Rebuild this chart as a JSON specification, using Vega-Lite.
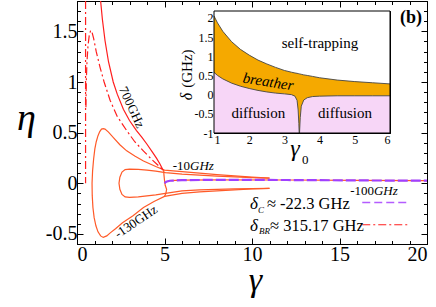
{
  "$schema": "https://vega.github.io/schema/vega-lite/v6.json",
  "width": 350,
  "height": 243,
  "autosize": "none",
  "padding": {"left": 77, "top": 1, "right": 9, "bottom": 63},
  "config": {
    "view": {"stroke": "black", "strokeWidth": 1},
    "font": "Liberation Serif",
    "axis": {"grid": false, "domainColor": "black", "tickColor": "black", "labelColor": "black", "titleColor": "black", "labelFont": "Liberation Serif", "titleFont": "Liberation Serif", "titleFontWeight": "normal"},
    "text": {"font": "Liberation Serif", "color": "black"}
  },
  "resolve": {"scale": {"x": "independent", "y": "independent"}},
  "layer": [
    {
      "resolve": {"axis": {"x": "independent", "y": "independent"}},
      "layer": [
        {
          "data": {"values": [
            {"c": "o1", "i": 1, "x": 11, "y": 0.05}, {"c": "o1", "i": 2, "x": 10, "y": 0.06}, {"c": "o1", "i": 3, "x": 9, "y": 0.072}, {"c": "o1", "i": 4, "x": 8, "y": 0.085}, {"c": "o1", "i": 5, "x": 7, "y": 0.1}, {"c": "o1", "i": 6, "x": 6, "y": 0.115}, {"c": "o1", "i": 7, "x": 5.0, "y": 0.13}, {"c": "o1", "i": 8, "x": 4.5, "y": 0.165}, {"c": "o1", "i": 9, "x": 3.8, "y": 0.22}, {"c": "o1", "i": 10, "x": 3.3, "y": 0.27}, {"c": "o1", "i": 11, "x": 2.84, "y": 0.32}, {"c": "o1", "i": 12, "x": 2.45, "y": 0.38}, {"c": "o1", "i": 13, "x": 2.08, "y": 0.45}, {"c": "o1", "i": 14, "x": 1.8, "y": 0.505}, {"c": "o1", "i": 15, "x": 1.6, "y": 0.535}, {"c": "o1", "i": 16, "x": 1.5, "y": 0.54}, {"c": "o1", "i": 17, "x": 1.4, "y": 0.535}, {"c": "o1", "i": 18, "x": 1.3, "y": 0.51}, {"c": "o1", "i": 19, "x": 1.2, "y": 0.47}, {"c": "o1", "i": 20, "x": 1.1, "y": 0.41}, {"c": "o1", "i": 21, "x": 1.02, "y": 0.34}, {"c": "o1", "i": 22, "x": 0.95, "y": 0.24}, {"c": "o1", "i": 23, "x": 0.89, "y": 0.12}, {"c": "o1", "i": 24, "x": 0.86, "y": 0.0}, {"c": "o1", "i": 25, "x": 0.87, "y": -0.12}, {"c": "o1", "i": 26, "x": 0.91, "y": -0.24}, {"c": "o1", "i": 27, "x": 0.98, "y": -0.34}, {"c": "o1", "i": 28, "x": 1.08, "y": -0.42}, {"c": "o1", "i": 29, "x": 1.2, "y": -0.48}, {"c": "o1", "i": 30, "x": 1.35, "y": -0.52}, {"c": "o1", "i": 31, "x": 1.5, "y": -0.535}, {"c": "o1", "i": 32, "x": 1.7, "y": -0.52}, {"c": "o1", "i": 33, "x": 1.9, "y": -0.49}, {"c": "o1", "i": 34, "x": 2.2, "y": -0.45}, {"c": "o1", "i": 35, "x": 2.6, "y": -0.39}, {"c": "o1", "i": 36, "x": 3.2, "y": -0.32}, {"c": "o1", "i": 37, "x": 3.8, "y": -0.24}, {"c": "o1", "i": 38, "x": 4.4, "y": -0.18}, {"c": "o1", "i": 39, "x": 5.0, "y": -0.13}, {"c": "o1", "i": 40, "x": 6, "y": -0.1}, {"c": "o1", "i": 41, "x": 7, "y": -0.085}, {"c": "o1", "i": 42, "x": 8, "y": -0.075}, {"c": "o1", "i": 43, "x": 9, "y": -0.065}, {"c": "o1", "i": 44, "x": 10, "y": -0.057}, {"c": "o1", "i": 45, "x": 11, "y": -0.05},
            {"c": "o2", "i": 1, "x": 11, "y": 0.05}, {"c": "o2", "i": 2, "x": 10, "y": 0.055}, {"c": "o2", "i": 3, "x": 9, "y": 0.062}, {"c": "o2", "i": 4, "x": 8, "y": 0.07}, {"c": "o2", "i": 5, "x": 7, "y": 0.08}, {"c": "o2", "i": 6, "x": 6, "y": 0.09}, {"c": "o2", "i": 7, "x": 5.05, "y": 0.105}, {"c": "o2", "i": 8, "x": 4.5, "y": 0.12}, {"c": "o2", "i": 9, "x": 4.0, "y": 0.13}, {"c": "o2", "i": 10, "x": 3.5, "y": 0.137}, {"c": "o2", "i": 11, "x": 3.0, "y": 0.14}, {"c": "o2", "i": 12, "x": 2.75, "y": 0.135}, {"c": "o2", "i": 13, "x": 2.57, "y": 0.11}, {"c": "o2", "i": 14, "x": 2.45, "y": 0.06}, {"c": "o2", "i": 15, "x": 2.4, "y": 0.0}, {"c": "o2", "i": 16, "x": 2.45, "y": -0.06}, {"c": "o2", "i": 17, "x": 2.57, "y": -0.11}, {"c": "o2", "i": 18, "x": 2.75, "y": -0.135}, {"c": "o2", "i": 19, "x": 3.0, "y": -0.14}, {"c": "o2", "i": 20, "x": 3.5, "y": -0.135}, {"c": "o2", "i": 21, "x": 4.0, "y": -0.125}, {"c": "o2", "i": 22, "x": 4.5, "y": -0.115}, {"c": "o2", "i": 23, "x": 5.05, "y": -0.1}, {"c": "o2", "i": 24, "x": 6, "y": -0.075}, {"c": "o2", "i": 25, "x": 7, "y": -0.065}, {"c": "o2", "i": 26, "x": 8, "y": -0.06}, {"c": "o2", "i": 27, "x": 9, "y": -0.056}, {"c": "o2", "i": 28, "x": 10, "y": -0.053}, {"c": "o2", "i": 29, "x": 11, "y": -0.05},
            {"c": "o3", "i": 1, "x": 4.95, "y": 0.13}, {"c": "o3", "i": 2, "x": 4.97, "y": 0.08}, {"c": "o3", "i": 3, "x": 5.0, "y": 0.03}, {"c": "o3", "i": 4, "x": 5.04, "y": -0.02}, {"c": "o3", "i": 5, "x": 5.12, "y": -0.06}, {"c": "o3", "i": 6, "x": 5.08, "y": -0.1}, {"c": "o3", "i": 7, "x": 5.0, "y": -0.13},
            {"c": "o4", "i": 1, "x": 5.0, "y": 0.0}, {"c": "o4", "i": 2, "x": 5.1, "y": 0.015}, {"c": "o4", "i": 3, "x": 5.3, "y": 0.025}, {"c": "o4", "i": 4, "x": 6, "y": 0.03}, {"c": "o4", "i": 5, "x": 8, "y": 0.034}, {"c": "o4", "i": 6, "x": 12, "y": 0.032}, {"c": "o4", "i": 7, "x": 16, "y": 0.028}, {"c": "o4", "i": 8, "x": 20, "y": 0.025}
          ]},
          "mark": {"type": "line", "color": "#ff5a28", "strokeWidth": 1.2},
          "encoding": {
            "x": {"field": "x", "type": "quantitative", "scale": {"domain": [0, 20], "zero": false, "nice": false},
              "axis": {"orient": "bottom", "values": [0, 5, 10, 15, 20], "tickSize": -6, "labelPadding": 6, "labelFont": "Liberation Serif", "labelFontSize": 20, "format": "~g", "title": "γ", "titleFont": "Liberation Serif", "titleFontSize": 34, "titleFontStyle": "italic", "titleX": 178, "titleY": 46, "titleBaseline": "alphabetic", "titleAlign": "center"}},
            "y": {"field": "y", "type": "quantitative", "scale": {"domain": [-0.6, 1.8], "zero": false, "nice": false},
              "axis": {"orient": "left", "values": [-0.5, 0, 0.5, 1, 1.5], "tickSize": -6, "labelPadding": 6, "labelFont": "Liberation Serif", "labelFontSize": 20, "format": "~g", "labelExpr": "replace(datum.label, '−', '-')", "title": "η", "titleFont": "Liberation Serif", "titleAngle": 0, "titleFontSize": 38, "titleFontStyle": "italic", "titleX": -51, "titleY": 128, "titleBaseline": "alphabetic", "titleAlign": "center"}},
            "detail": {"field": "c"},
            "order": {"field": "i", "type": "quantitative"}
          }
        },
        {
          "data": {"values": [
            {"c": "r1", "i": 1, "x": 1.35, "y": 1.8}, {"c": "r1", "i": 2, "x": 1.45, "y": 1.62}, {"c": "r1", "i": 3, "x": 1.6, "y": 1.41}, {"c": "r1", "i": 4, "x": 1.8, "y": 1.2}, {"c": "r1", "i": 5, "x": 2.07, "y": 1.0}, {"c": "r1", "i": 6, "x": 2.3, "y": 0.88}, {"c": "r1", "i": 7, "x": 2.65, "y": 0.73}, {"c": "r1", "i": 8, "x": 3.0, "y": 0.62}, {"c": "r1", "i": 9, "x": 3.4, "y": 0.52}, {"c": "r1", "i": 10, "x": 3.7, "y": 0.455}, {"c": "r1", "i": 11, "x": 3.98, "y": 0.39}, {"c": "r1", "i": 12, "x": 4.3, "y": 0.31}, {"c": "r1", "i": 13, "x": 4.55, "y": 0.245}, {"c": "r1", "i": 14, "x": 4.74, "y": 0.19}, {"c": "r1", "i": 15, "x": 4.93, "y": 0.125}
          ]},
          "mark": {"type": "line", "color": "#ff1e1e", "strokeWidth": 1.2},
          "encoding": {
            "x": {"field": "x", "type": "quantitative", "scale": {"domain": [0, 20], "zero": false, "nice": false},
              "axis": {"orient": "top", "values": [0, 5, 10, 15, 20], "tickSize": -6, "labels": false, "title": null}},
            "y": {"field": "y", "type": "quantitative", "scale": {"domain": [-0.6, 1.8], "zero": false, "nice": false},
              "axis": {"orient": "right", "values": [-0.5, 0, 0.5, 1, 1.5], "tickSize": -6, "labels": false, "title": null}},
            "detail": {"field": "c"},
            "order": {"field": "i", "type": "quantitative"}
          }
        },
        {
          "data": {"values": [
            {"c": "r2", "i": 1, "x": 0.51, "y": 0.75}, {"c": "r2", "i": 2, "x": 0.53, "y": 1.0}, {"c": "r2", "i": 3, "x": 0.57, "y": 1.2}, {"c": "r2", "i": 4, "x": 0.63, "y": 1.36}, {"c": "r2", "i": 5, "x": 0.7, "y": 1.46}, {"c": "r2", "i": 6, "x": 0.78, "y": 1.51}, {"c": "r2", "i": 7, "x": 0.86, "y": 1.49}, {"c": "r2", "i": 8, "x": 0.95, "y": 1.43}, {"c": "r2", "i": 9, "x": 1.1, "y": 1.3}, {"c": "r2", "i": 10, "x": 1.31, "y": 1.15}, {"c": "r2", "i": 11, "x": 1.55, "y": 1.0}, {"c": "r2", "i": 12, "x": 1.89, "y": 0.82}, {"c": "r2", "i": 13, "x": 2.3, "y": 0.66}, {"c": "r2", "i": 14, "x": 2.84, "y": 0.52}, {"c": "r2", "i": 15, "x": 3.3, "y": 0.41}, {"c": "r2", "i": 16, "x": 3.79, "y": 0.32}, {"c": "r2", "i": 17, "x": 4.3, "y": 0.23}, {"c": "r2", "i": 18, "x": 4.74, "y": 0.16}, {"c": "r2", "i": 19, "x": 4.93, "y": 0.125},
            {"c": "r3", "i": 1, "x": 0.49, "y": 1.8}, {"c": "r3", "i": 2, "x": 0.49, "y": 0.0}
          ]},
          "mark": {"type": "line", "color": "#ff1e1e", "strokeWidth": 1.2, "strokeDash": [8, 3, 2, 3]},
          "encoding": {
            "x": {"field": "x", "type": "quantitative", "scale": {"domain": [0, 20], "zero": false, "nice": false},
              "axis": {"orient": "bottom", "values": [1, 2, 3, 4, 6, 7, 8, 9, 11, 12, 13, 14, 16, 17, 18, 19], "tickSize": -3.5, "labels": false, "domain": false, "title": null}},
            "y": {"field": "y", "type": "quantitative", "scale": {"domain": [-0.6, 1.8], "zero": false, "nice": false},
              "axis": {"orient": "left", "values": [-0.6, -0.4, -0.3, -0.2, -0.1, 0.1, 0.2, 0.3, 0.4, 0.6, 0.7, 0.8, 0.9, 1.1, 1.2, 1.3, 1.4, 1.6, 1.7], "tickSize": -3.5, "labels": false, "domain": false, "title": null}},
            "detail": {"field": "c"},
            "order": {"field": "i", "type": "quantitative"}
          }
        },
        {
          "data": {"values": [
            {"c": "p", "i": 1, "x": 5.0, "y": 0.0}, {"c": "p", "i": 2, "x": 5.1, "y": 0.015}, {"c": "p", "i": 3, "x": 5.3, "y": 0.025}, {"c": "p", "i": 4, "x": 6, "y": 0.03}, {"c": "p", "i": 5, "x": 8, "y": 0.034}, {"c": "p", "i": 6, "x": 12, "y": 0.032}, {"c": "p", "i": 7, "x": 16, "y": 0.028}, {"c": "p", "i": 8, "x": 20, "y": 0.025}
          ]},
          "mark": {"type": "line", "color": "#a040ff", "strokeWidth": 2.2, "strokeDash": [10, 3]},
          "encoding": {
            "x": {"field": "x", "type": "quantitative", "scale": {"domain": [0, 20], "zero": false, "nice": false},
              "axis": {"orient": "top", "values": [1, 2, 3, 4, 6, 7, 8, 9, 11, 12, 13, 14, 16, 17, 18, 19], "tickSize": -3.5, "labels": false, "domain": false, "title": null}},
            "y": {"field": "y", "type": "quantitative", "scale": {"domain": [-0.6, 1.8], "zero": false, "nice": false},
              "axis": {"orient": "right", "values": [-0.6, -0.4, -0.3, -0.2, -0.1, 0.1, 0.2, 0.3, 0.4, 0.6, 0.7, 0.8, 0.9, 1.1, 1.2, 1.3, 1.4, 1.6, 1.7], "tickSize": -3.5, "labels": false, "domain": false, "title": null}},
            "order": {"field": "i", "type": "quantitative"}
          }
        },
        {
          "data": {"values": [{"x1": 16.3, "x2": 18.9, "y": -0.19}]},
          "mark": {"type": "rule", "color": "#b45cff", "strokeWidth": 1.5, "strokeDash": [8, 4]},
          "encoding": {
            "x": {"field": "x1", "type": "quantitative", "scale": {"domain": [0, 20], "zero": false, "nice": false}, "axis": null},
            "x2": {"field": "x2"},
            "y": {"field": "y", "type": "quantitative", "scale": {"domain": [-0.6, 1.8], "zero": false, "nice": false}, "axis": null}
          }
        },
        {
          "data": {"values": [{"x1": 16.3, "x2": 18.9, "y": -0.41}]},
          "mark": {"type": "rule", "color": "#ff1e1e", "strokeWidth": 1.2, "strokeDash": [8, 3, 2, 3]},
          "encoding": {
            "x": {"field": "x1", "type": "quantitative", "scale": {"domain": [0, 20], "zero": false, "nice": false}, "axis": null},
            "x2": {"field": "x2"},
            "y": {"field": "y", "type": "quantitative", "scale": {"domain": [-0.6, 1.8], "zero": false, "nice": false}, "axis": null}
          }
        },
        {
          "data": {"values": [{"x": 3.12, "y": 0.75, "t": "700GHz"}]},
          "mark": {"type": "text", "fontSize": 13, "angle": 65, "align": "center", "baseline": "middle"},
          "encoding": {
            "x": {"field": "x", "type": "quantitative", "scale": {"domain": [0, 20], "zero": false, "nice": false}, "axis": null},
            "y": {"field": "y", "type": "quantitative", "scale": {"domain": [-0.6, 1.8], "zero": false, "nice": false}, "axis": null},
            "text": {"field": "t"}
          }
        },
        {
          "data": {"values": [{"x": 3.37, "y": -0.38, "t": "-130GHz"}]},
          "mark": {"type": "text", "fontSize": 13, "angle": -34, "align": "center", "baseline": "middle"},
          "encoding": {
            "x": {"field": "x", "type": "quantitative", "scale": {"domain": [0, 20], "zero": false, "nice": false}, "axis": null},
            "y": {"field": "y", "type": "quantitative", "scale": {"domain": [-0.6, 1.8], "zero": false, "nice": false}, "axis": null},
            "text": {"field": "t"}
          }
        },
        {
          "data": {"values": [{"x": 6.46, "y": 0.175, "t": "-10"}, {"x": 16.97, "y": -0.077, "t": "-100"}]},
          "mark": {"type": "text", "fontSize": 13, "align": "right", "baseline": "middle"},
          "encoding": {
            "x": {"field": "x", "type": "quantitative", "scale": {"domain": [0, 20], "zero": false, "nice": false}, "axis": null},
            "y": {"field": "y", "type": "quantitative", "scale": {"domain": [-0.6, 1.8], "zero": false, "nice": false}, "axis": null},
            "text": {"field": "t"}
          }
        },
        {
          "data": {"values": [{"x": 6.46, "y": 0.175, "t": "GHz"}, {"x": 16.97, "y": -0.077, "t": "GHz"}]},
          "mark": {"type": "text", "fontSize": 13, "fontStyle": "italic", "align": "left", "baseline": "middle"},
          "encoding": {
            "x": {"field": "x", "type": "quantitative", "scale": {"domain": [0, 20], "zero": false, "nice": false}, "axis": null},
            "y": {"field": "y", "type": "quantitative", "scale": {"domain": [-0.6, 1.8], "zero": false, "nice": false}, "axis": null},
            "text": {"field": "t"}
          }
        },
        {
          "data": {"values": [{"x": 9.89, "y": -0.25, "t": "δ"}, {"x": 9.89, "y": -0.467, "t": "δ"}]},
          "mark": {"type": "text", "fontSize": 17, "fontStyle": "italic", "align": "left", "baseline": "alphabetic"},
          "encoding": {
            "x": {"field": "x", "type": "quantitative", "scale": {"domain": [0, 20], "zero": false, "nice": false}, "axis": null},
            "y": {"field": "y", "type": "quantitative", "scale": {"domain": [-0.6, 1.8], "zero": false, "nice": false}, "axis": null},
            "text": {"field": "t"}
          }
        },
        {
          "data": {"values": [{"x": 10.34, "y": -0.29, "t": "C"}, {"x": 10.4, "y": -0.5, "t": "BR"}]},
          "mark": {"type": "text", "fontSize": 9, "fontStyle": "italic", "align": "left", "baseline": "alphabetic"},
          "encoding": {
            "x": {"field": "x", "type": "quantitative", "scale": {"domain": [0, 20], "zero": false, "nice": false}, "axis": null},
            "y": {"field": "y", "type": "quantitative", "scale": {"domain": [-0.6, 1.8], "zero": false, "nice": false}, "axis": null},
            "text": {"field": "t"}
          }
        },
        {
          "data": {"values": [{"x": 10.85, "y": -0.25, "t": "≈ -22.3 GHz"}, {"x": 11.03, "y": -0.467, "t": "≈ 315.17 GHz"}]},
          "mark": {"type": "text", "fontSize": 16.5, "align": "left", "baseline": "alphabetic"},
          "encoding": {
            "x": {"field": "x", "type": "quantitative", "scale": {"domain": [0, 20], "zero": false, "nice": false}, "axis": null},
            "y": {"field": "y", "type": "quantitative", "scale": {"domain": [-0.6, 1.8], "zero": false, "nice": false}, "axis": null},
            "text": {"field": "t"}
          }
        },
        {
          "data": {"values": [{"x": 19.09, "y": 1.63, "t": "(b)"}]},
          "mark": {"type": "text", "fontSize": 18, "fontWeight": "bold", "align": "center", "baseline": "middle"},
          "encoding": {
            "x": {"field": "x", "type": "quantitative", "scale": {"domain": [0, 20], "zero": false, "nice": false}, "axis": null},
            "y": {"field": "y", "type": "quantitative", "scale": {"domain": [-0.6, 1.8], "zero": false, "nice": false}, "axis": null},
            "text": {"field": "t"}
          }
        }
      ]
    },
    {
      "resolve": {"axis": {"x": "independent", "y": "independent"}},
      "layer": [
        {
          "data": {"values": [{}]},
          "mark": {"type": "rect", "fill": "white"},
          "encoding": {
            "x": {"datum": 1, "type": "quantitative", "scale": {"domain": [1, 6], "range": [137, 313], "zero": false, "nice": false}, "axis": null},
            "x2": {"datum": 6},
            "y": {"datum": -1, "type": "quantitative", "scale": {"domain": [-1, 2.18], "range": [132, 10], "zero": false, "nice": false}, "axis": null},
            "y2": {"datum": 2.18}
          }
        },
        {
          "data": {"name": "bounds", "values": [
            {"g": 1.0, "hi": 2.05, "lo": 0.58}, {"g": 1.1, "hi": 1.87, "lo": 0.5}, {"g": 1.25, "hi": 1.65, "lo": 0.41}, {"g": 1.5, "hi": 1.38, "lo": 0.3}, {"g": 1.75, "hi": 1.18, "lo": 0.22}, {"g": 2.0, "hi": 1.03, "lo": 0.16}, {"g": 2.25, "hi": 0.9, "lo": 0.11}, {"g": 2.5, "hi": 0.8, "lo": 0.07}, {"g": 2.75, "hi": 0.71, "lo": 0.04}, {"g": 3.0, "hi": 0.63, "lo": 0.02}, {"g": 3.2, "hi": 0.585, "lo": 0.0}, {"g": 3.3, "hi": 0.565, "lo": -0.04}, {"g": 3.36, "hi": 0.555, "lo": -0.15}, {"g": 3.39, "hi": 0.55, "lo": -0.4}, {"g": 3.41, "hi": 0.545, "lo": -0.75}, {"g": 3.42, "hi": 0.543, "lo": -1.0}, {"g": 3.43, "hi": 0.541, "lo": -1.0}, {"g": 3.45, "hi": 0.537, "lo": -0.6}, {"g": 3.48, "hi": 0.53, "lo": -0.3}, {"g": 3.55, "hi": 0.515, "lo": -0.14}, {"g": 3.65, "hi": 0.5, "lo": -0.08}, {"g": 3.8, "hi": 0.475, "lo": -0.05}, {"g": 4.0, "hi": 0.44, "lo": -0.04}, {"g": 4.5, "hi": 0.38, "lo": -0.03}, {"g": 5.0, "hi": 0.34, "lo": -0.03}, {"g": 5.5, "hi": 0.31, "lo": -0.03}, {"g": 6.0, "hi": 0.28, "lo": -0.03}
          ]},
          "mark": {"type": "area", "color": "#f7d6f7"},
          "encoding": {
            "x": {"field": "g", "type": "quantitative", "scale": {"domain": [1, 6], "range": [137, 313], "zero": false, "nice": false},
              "axis": {"orient": "bottom", "offset": -111, "values": [1, 2, 3, 4, 5, 6], "tickSize": -4, "labelPadding": 5, "labelFont": "Liberation Serif", "labelFontSize": 12, "format": "~g", "title": null}},
            "y": {"field": "lo", "type": "quantitative", "scale": {"domain": [-1, 2.18], "range": [132, 10], "zero": false, "nice": false},
              "axis": {"orient": "left", "offset": -137, "values": [-1, -0.5, 0, 0.5, 1, 1.5, 2], "tickSize": -4, "labelPadding": 5, "labelFont": "Liberation Serif", "labelFontSize": 12, "format": "~g", "labelExpr": "replace(datum.label, '−', '-')", "title": null}},
            "y2": {"datum": -1}
          }
        },
        {
          "data": {"name": "bounds"},
          "mark": {"type": "area", "color": "#f5a900"},
          "encoding": {
            "x": {"field": "g", "type": "quantitative", "scale": {"domain": [1, 6], "range": [137, 313], "zero": false, "nice": false},
              "axis": {"orient": "top", "offset": -10, "values": [1, 2, 3, 4, 5, 6], "tickSize": -4, "labels": false, "title": null}},
            "y": {"field": "hi", "type": "quantitative", "scale": {"domain": [-1, 2.18], "range": [132, 10], "zero": false, "nice": false},
              "axis": {"orient": "right", "offset": -37, "values": [-1, -0.5, 0, 0.5, 1, 1.5, 2], "tickSize": -4, "labels": false, "title": null}},
            "y2": {"field": "lo"}
          }
        },
        {
          "data": {"name": "bounds"},
          "mark": {"type": "line", "color": "#444444", "strokeWidth": 0.9},
          "encoding": {
            "x": {"field": "g", "type": "quantitative", "scale": {"domain": [1, 6], "range": [137, 313], "zero": false, "nice": false},
              "axis": {"orient": "bottom", "offset": -111, "values": [1.25, 1.5, 1.75, 2.25, 2.5, 2.75, 3.25, 3.5, 3.75, 4.25, 4.5, 4.75, 5.25, 5.5, 5.75], "tickSize": -2, "labels": false, "domain": false, "title": null}},
            "y": {"field": "hi", "type": "quantitative", "scale": {"domain": [-1, 2.18], "range": [132, 10], "zero": false, "nice": false},
              "axis": {"orient": "left", "offset": -137, "values": [-0.9, -0.8, -0.7, -0.6, -0.4, -0.3, -0.2, -0.1, 0.1, 0.2, 0.3, 0.4, 0.6, 0.7, 0.8, 0.9, 1.1, 1.2, 1.3, 1.4, 1.6, 1.7, 1.8, 1.9, 2.1], "tickSize": -2, "labels": false, "domain": false, "title": null}}
          }
        },
        {
          "data": {"name": "bounds"},
          "mark": {"type": "line", "color": "#444444", "strokeWidth": 0.9},
          "encoding": {
            "x": {"field": "g", "type": "quantitative", "scale": {"domain": [1, 6], "range": [137, 313], "zero": false, "nice": false},
              "axis": {"orient": "top", "offset": -10, "values": [1.25, 1.5, 1.75, 2.25, 2.5, 2.75, 3.25, 3.5, 3.75, 4.25, 4.5, 4.75, 5.25, 5.5, 5.75], "tickSize": -2, "labels": false, "domain": false, "title": null}},
            "y": {"field": "lo", "type": "quantitative", "scale": {"domain": [-1, 2.18], "range": [132, 10], "zero": false, "nice": false},
              "axis": {"orient": "right", "offset": -37, "values": [-0.9, -0.8, -0.7, -0.6, -0.4, -0.3, -0.2, -0.1, 0.1, 0.2, 0.3, 0.4, 0.6, 0.7, 0.8, 0.9, 1.1, 1.2, 1.3, 1.4, 1.6, 1.7, 1.8, 1.9, 2.1], "tickSize": -2, "labels": false, "domain": false, "title": null}}
          }
        },
        {
          "data": {"values": [{}]},
          "mark": {"type": "rect", "fill": null, "stroke": "black", "strokeWidth": 1},
          "encoding": {
            "x": {"datum": 1, "type": "quantitative", "scale": {"domain": [1, 6], "range": [137, 313], "zero": false, "nice": false}, "axis": null},
            "x2": {"datum": 6},
            "y": {"datum": -1, "type": "quantitative", "scale": {"domain": [-1, 2.18], "range": [132, 10], "zero": false, "nice": false}, "axis": null},
            "y2": {"datum": 2.18}
          }
        },
        {
          "data": {"values": [{"x": 4.01, "y": 1.34, "t": "self-trapping"}, {"x": 2.26, "y": -0.49, "t": "diffusion"}, {"x": 4.72, "y": -0.49, "t": "diffusion"}]},
          "mark": {"type": "text", "fontSize": 15, "align": "center", "baseline": "middle"},
          "encoding": {
            "x": {"field": "x", "type": "quantitative", "scale": {"domain": [1, 6], "range": [137, 313], "zero": false, "nice": false}, "axis": null},
            "y": {"field": "y", "type": "quantitative", "scale": {"domain": [-1, 2.18], "range": [132, 10], "zero": false, "nice": false}, "axis": null},
            "text": {"field": "t"}
          }
        },
        {
          "data": {"values": [{"x": 2.54, "y": 0.34, "t": "breather"}]},
          "mark": {"type": "text", "fontSize": 15, "fontStyle": "italic", "angle": 9, "align": "center", "baseline": "middle"},
          "encoding": {
            "x": {"field": "x", "type": "quantitative", "scale": {"domain": [1, 6], "range": [137, 313], "zero": false, "nice": false}, "axis": null},
            "y": {"field": "y", "type": "quantitative", "scale": {"domain": [-1, 2.18], "range": [132, 10], "zero": false, "nice": false}, "axis": null},
            "text": {"field": "t"}
          }
        },
        {
          "data": {"values": [{"x": 3.3, "y": -1.61, "t": "γ"}]},
          "mark": {"type": "text", "fontSize": 24, "fontStyle": "italic", "align": "center", "baseline": "alphabetic"},
          "encoding": {
            "x": {"field": "x", "type": "quantitative", "scale": {"domain": [1, 6], "range": [137, 313], "zero": false, "nice": false}, "axis": null},
            "y": {"field": "y", "type": "quantitative", "scale": {"domain": [-1, 2.18], "range": [132, 10], "zero": false, "nice": false}, "axis": null},
            "text": {"field": "t"}
          }
        },
        {
          "data": {"values": [{"x": 3.5, "y": -1.8, "t": "0"}]},
          "mark": {"type": "text", "fontSize": 13, "align": "left", "baseline": "alphabetic"},
          "encoding": {
            "x": {"field": "x", "type": "quantitative", "scale": {"domain": [1, 6], "range": [137, 313], "zero": false, "nice": false}, "axis": null},
            "y": {"field": "y", "type": "quantitative", "scale": {"domain": [-1, 2.18], "range": [132, 10], "zero": false, "nice": false}, "axis": null},
            "text": {"field": "t"}
          }
        },
        {
          "data": {"values": [{"x": 0.233, "y": -0.05, "t": "δ"}]},
          "mark": {"type": "text", "fontSize": 16, "fontStyle": "italic", "angle": -90, "align": "center", "baseline": "middle"},
          "encoding": {
            "x": {"field": "x", "type": "quantitative", "scale": {"domain": [1, 6], "range": [137, 313], "zero": false, "nice": false}, "axis": null},
            "y": {"field": "y", "type": "quantitative", "scale": {"domain": [-1, 2.18], "range": [132, 10], "zero": false, "nice": false}, "axis": null},
            "text": {"field": "t"}
          }
        },
        {
          "data": {"values": [{"x": 0.233, "y": 0.68, "t": "(GHz)"}]},
          "mark": {"type": "text", "fontSize": 15, "angle": -90, "align": "center", "baseline": "middle"},
          "encoding": {
            "x": {"field": "x", "type": "quantitative", "scale": {"domain": [1, 6], "range": [137, 313], "zero": false, "nice": false}, "axis": null},
            "y": {"field": "y", "type": "quantitative", "scale": {"domain": [-1, 2.18], "range": [132, 10], "zero": false, "nice": false}, "axis": null},
            "text": {"field": "t"}
          }
        }
      ]
    }
  ]
}
